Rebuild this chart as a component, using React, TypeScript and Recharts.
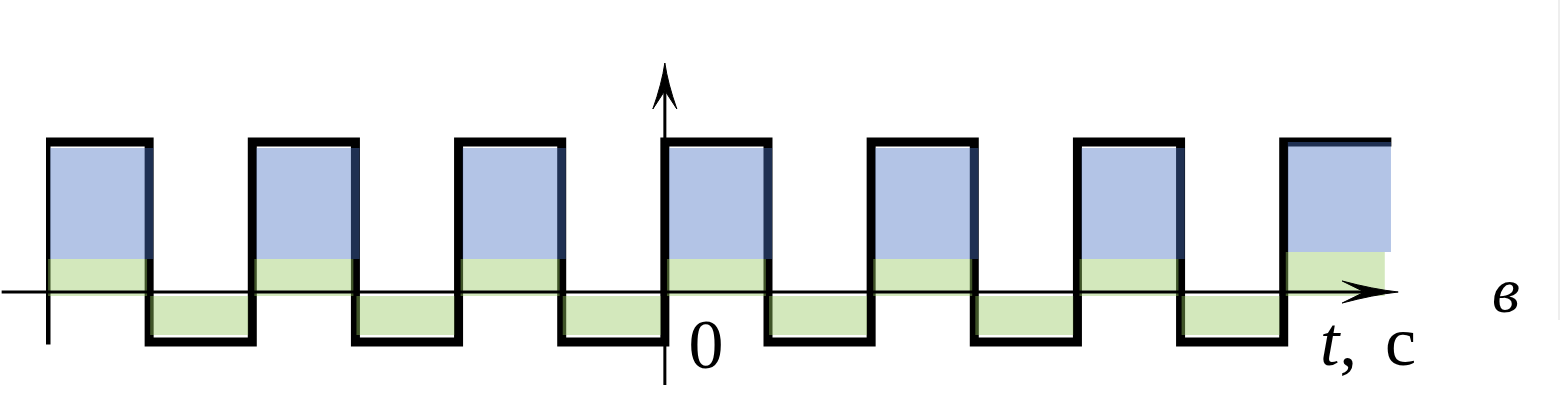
import React from "react";
import { ComposedChart, Area, XAxis, YAxis, ReferenceLine } from "recharts";

// half-period edges (time units, one unit = half a period)
const edges = [-6, -5, -4, -3, -2, -1, 0, 1, 2, 3, 4, 5, 6, 7];
// signal level on each half-period
const wave = [3, -1, 3, -1, 3, -1, 3, -1, 3, -1, 3, -1, 3];
const stubStart = -0.96;

// blue band (only on high half-periods)
const blueFrom = [0.66, null, 0.66, null, 0.66, null, 0.66, null, 0.66, null, 0.66, null, 0.8];
const blueTo = [2.88, null, 2.88, null, 2.88, null, 2.88, null, 2.88, null, 2.88, null, 3.0];
// green band on every half-period
const greenFrom = [-0.08, -0.86, -0.08, -0.86, -0.08, -0.86, -0.08, -0.86, -0.08, -0.86, -0.08, -0.86, -0.08];
const greenTo = [0.66, -0.08, 0.66, -0.08, 0.66, -0.08, 0.66, -0.08, 0.66, -0.08, 0.66, -0.08, 0.8];

const lineData = [
  { t: edges[0], v: stubStart },
  ...wave.map((v, i) => ({ t: edges[i], v })),
  { t: edges[edges.length - 1], v: wave[wave.length - 1] },
];

const BLUE_SHIFT = 0.04;
const blueSegs = wave
  .map((_, i) =>
    blueFrom[i] == null
      ? null
      : [
          { t: edges[i] + BLUE_SHIFT, r: [blueFrom[i], blueTo[i]] },
          { t: edges[i + 1] + BLUE_SHIFT, r: [blueFrom[i], blueTo[i]] },
        ]
  )
  .filter(Boolean) as { t: number; r: number[] }[][];

const greenSegs = wave.map((v, i) => {
  const a = v > 0 ? 0.02 : 0.01;
  const b = v > 0 ? -0.02 : -0.04;
  return [
    { t: edges[i] + a, r: [greenFrom[i], greenTo[i]] },
    { t: edges[i + 1] + b, r: [greenFrom[i], greenTo[i]] },
  ];
});

const arrowShape = (len: number, half: number) => (props: any) => {
  const { x1, y1, x2, y2 } = props;
  const dx = x2 - x1;
  const dy = y2 - y1;
  const d = Math.hypot(dx, dy) || 1;
  const ux = dx / d;
  const uy = dy / d;
  const nx = -uy;
  const ny = ux;
  const bx = x2 - len * ux;
  const by = y2 - len * uy;
  const notchX = x2 - len * 0.6 * ux;
  const notchY = y2 - len * 0.6 * uy;
  const p1 = [bx + half * nx, by + half * ny];
  const p2 = [bx - half * nx, by - half * ny];
  const c1 = [x2 - len * 0.45 * ux + half * 0.25 * nx, y2 - len * 0.45 * uy + half * 0.25 * ny];
  const c2 = [x2 - len * 0.45 * ux - half * 0.25 * nx, y2 - len * 0.45 * uy - half * 0.25 * ny];
  const head = `M${x2},${y2} Q${c1[0]},${c1[1]} ${p1[0]},${p1[1]} L${notchX},${notchY} L${p2[0]},${p2[1]} Q${c2[0]},${c2[1]} ${x2},${y2} Z`;
  return (
    <g>
      <line x1={x1} y1={y1} x2={notchX} y2={notchY} stroke="#000" strokeWidth={3} />
      <path d={head} fill="#000" stroke="#000" strokeWidth={1} />
    </g>
  );
};

const App = () => {
  return (
    <div style={{ position: "absolute", left: 0, top: 0, width: 1561, height: 400, background: "#fff" }}>
      <ComposedChart width={1561} height={400} margin={{ top: 92, right: 71, bottom: 8, left: 46 }}>
        <XAxis type="number" dataKey="t" domain={[-6, 8]} allowDataOverflow hide />
        <YAxis type="number" domain={[-2, 4]} allowDataOverflow hide />
        <ReferenceLine
          segment={[{ x: -6.43, y: 0 }, { x: 7.11, y: 0 }]}
          ifOverflow="visible"
          shape={arrowShape(56, 11)}
        />
        <ReferenceLine
          segment={[{ x: 0, y: -1.86 }, { x: 0, y: 4.58 }]}
          ifOverflow="visible"
          shape={arrowShape(46, 12)}
        />
        <Area
          data={lineData}
          dataKey="v"
          type="stepAfter"
          stroke="#000"
          strokeWidth={9}
          strokeLinejoin="miter"
          strokeLinecap="square"
          fill="none"
          dot={false}
          activeDot={false}
          isAnimationActive={false}
        />
        {greenSegs.map((seg, i) => (
          <Area
            key={`g${i}`}
            data={seg}
            dataKey="r"
            type="linear"
            stroke="none"
            fill="rgb(151,200,95)"
            fillOpacity={0.42}
            isAnimationActive={false}
            activeDot={false}
          />
        ))}
        {blueSegs.map((seg, i) => (
          <Area
            key={`b${i}`}
            data={seg}
            dataKey="r"
            type="linear"
            stroke="none"
            fill="rgb(74,115,195)"
            fillOpacity={0.42}
            isAnimationActive={false}
            activeDot={false}
          />
        ))}
        <text x={706} y={368} textAnchor="middle" fontFamily="'Liberation Serif', serif" fontSize={70} fill="#000">
          0
        </text>
        <text y={365} fontFamily="'Liberation Serif', serif" fontSize={70} fill="#000">
          <tspan x={1320} fontStyle="italic">t</tspan>
          <tspan>,</tspan>
          <tspan x={1385}>c</tspan>
        </text>
        <text x={1506} y={312} textAnchor="middle" fontFamily="'Liberation Serif', serif" fontStyle="italic" fontSize={64} fill="#000">
          в
        </text>
      </ComposedChart>
      <div style={{ position: "absolute", left: 1558, top: 0, width: 2, height: 320, background: "#eeeeee" }} />
    </div>
  );
};

export default App;
